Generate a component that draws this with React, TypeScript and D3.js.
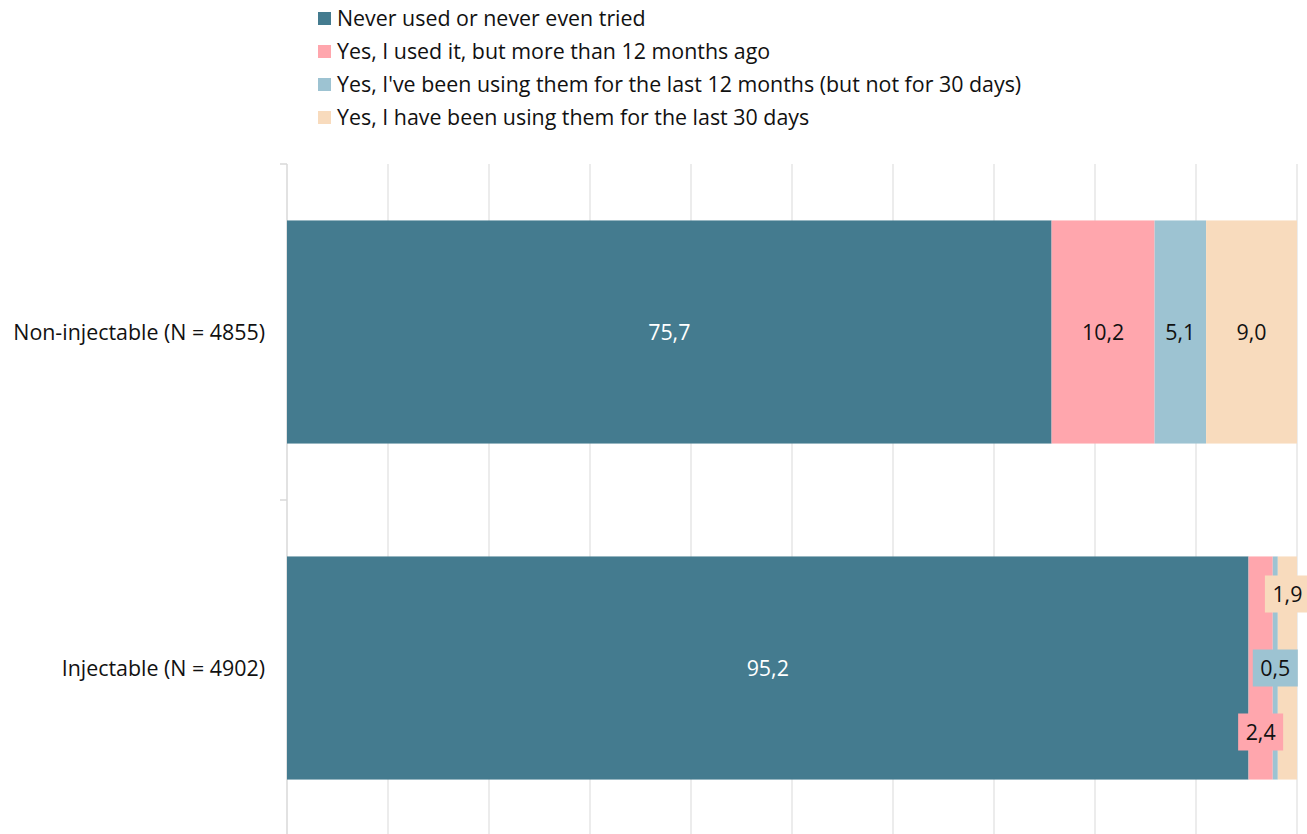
import React from "react";
import * as d3 from "d3";

const categories = ["Non-injectable (N = 4855)", "Injectable (N = 4902)"];
const seriesNames = [
  "Never used or never even tried",
  "Yes, I used it, but more than 12 months ago",
  "Yes, I've been using them for the last 12 months (but not for 30 days)",
  "Yes, I have been using them for the last 30 days",
];
const neverUsed = [75.7, 95.2];
const usedLongAgo = [10.2, 2.4];
const used12Months = [5.1, 0.5];
const used30Days = [9.0, 1.9];
const xTicks = [0, 10, 20, 30, 40, 50, 60, 70, 80, 90, 100];

const colors = ["#447B8F", "#FFA6AD", "#9DC3D2", "#F8DBBD"];
const textColors = ["#ffffff", "#111111", "#111111", "#111111"];
const FONT = "'Open Sans', 'Noto Sans', sans-serif";
const FS = 21.4;

export default function App() {
  const W = 1307, H = 834;
  const x = d3.scaleLinear().domain([0, 100]).range([287, 1297]);
  const y = d3.scaleBand<string>().domain(categories).range([164, 836]).paddingInner(0.336).paddingOuter(0.168);
  const rows = categories.map((c, i) => ({
    cat: c,
    vals: [neverUsed[i], usedLongAgo[i], used12Months[i], used30Days[i]],
  }));
  const stackData = rows.map((r) => {
    const o: any = { cat: r.cat };
    r.vals.forEach((v, k) => (o["s" + k] = v));
    return o;
  });
  const keys = ["s0", "s1", "s2", "s3"];
  const stacked = d3.stack().keys(keys)(stackData);
  const smallOffsets = [0, 64, 0, -74];
  const bandTop = y.range()[0];
  const ticksY = [164, 500, 836];

  return (
    <svg width={W} height={H} style={{ position: "absolute", left: 0, top: 0, fontFamily: FONT }}>
      <rect width={W} height={H} fill="#fff" />
      {seriesNames.map((s, i) => (
        <g key={s} transform={`translate(318, ${12 + i * 33})`}>
          <rect width={13} height={13} fill={colors[i]} />
          <text x={19} y={6.5} dy="0.36em" fontSize={FS} fill="#111">{s}</text>
        </g>
      ))}
      {xTicks.slice(1).map((t) => (
        <line key={t} x1={x(t)} x2={x(t)} y1={bandTop} y2={H} stroke="#d9d9d9" strokeWidth={1} />
      ))}
      <line x1={287} x2={287} y1={bandTop} y2={H} stroke="#d9d9d9" strokeWidth={1.5} />
      {ticksY.map((t) => (
        <line key={t} x1={280} x2={287} y1={t} y2={t} stroke="#d9d9d9" strokeWidth={1.5} />
      ))}
      {stacked.map((layer, k) => (
        <g key={layer.key} fill={colors[k]}>
          {layer.map((d, i) => (
            <rect key={i} x={x(d[0])} width={x(d[1]) - x(d[0])} y={y(categories[i])!} height={y.bandwidth()} />
          ))}
        </g>
      ))}
      {stacked.map((layer, k) =>
        layer.map((d, i) => {
          const v = d[1] - d[0];
          const cx = (x(d[0]) + x(d[1])) / 2;
          const cy = y(categories[i])! + y.bandwidth() / 2;
          const label = v.toFixed(1).replace(".", ",");
          const narrow = x(d[1]) - x(d[0]) < 40;
          if (narrow) {
            const yy = cy + smallOffsets[k];
            return (
              <g key={`${k}-${i}`}>
                <rect x={cx - 22.5} y={yy - 18.5} width={45} height={37} fill={colors[k]} />
                <text x={cx} y={yy} dy="0.36em" textAnchor="middle" fontSize={FS} fill="#111">{label}</text>
              </g>
            );
          }
          return (
            <text key={`${k}-${i}`} x={cx} y={cy} dy="0.36em" textAnchor="middle" fontSize={FS} fill={textColors[k]}>{label}</text>
          );
        })
      )}
      {categories.map((c) => (
        <text key={c} x={265} y={y(c)! + y.bandwidth() / 2} dy="0.36em" textAnchor="end" fontSize={FS} fill="#111">{c}</text>
      ))}
    </svg>
  );
}
